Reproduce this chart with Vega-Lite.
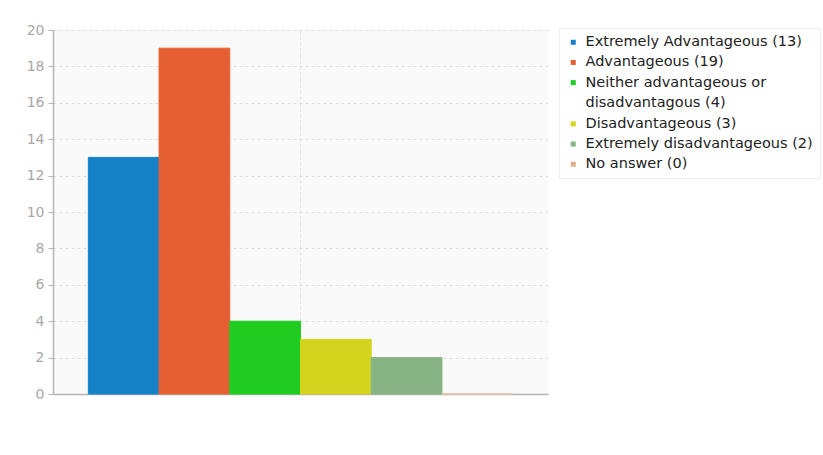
{
  "$schema": "https://vega.github.io/schema/vega-lite/v6.json",
  "width": 495,
  "height": 364,
  "autosize": {"type": "none"},
  "padding": {"left": 53, "top": 30, "right": 275, "bottom": 61},
  "background": "#ffffff",
  "config": {
    "font": "DejaVu Sans",
    "view": {"fill": "#f9f9f9", "stroke": null}
  },
  "data": {
    "values": [
      {"answer": "Extremely Advantageous", "count": 13},
      {"answer": "Advantageous", "count": 19},
      {"answer": "Neither advantageous or disadvantagous", "count": 4},
      {"answer": "Disadvantageous", "count": 3},
      {"answer": "Extremely disadvantageous", "count": 2},
      {"answer": "No answer", "count": 0}
    ]
  },
  "mark": {"type": "bar", "strokeWidth": 1},
  "encoding": {
    "x": {
      "field": "answer",
      "type": "nominal",
      "sort": null,
      "title": null,
      "scale": {"paddingInner": 0, "paddingOuter": 0.5},
      "axis": {
        "values": ["Neither advantageous or disadvantagous"],
        "bandPosition": 1,
        "labels": false,
        "ticks": false,
        "domain": true,
        "domainColor": "#b4b4b4",
        "domainWidth": 1.5,
        "grid": true,
        "gridColor": "#e2e2e2",
        "gridDash": [3, 3],
        "gridWidth": 1
      }
    },
    "y": {
      "field": "count",
      "type": "quantitative",
      "title": null,
      "scale": {"domain": [0, 20], "nice": false},
      "axis": {
        "values": [0, 2, 4, 6, 8, 10, 12, 14, 16, 18, 20],
        "labelColor": "#a8a8a8",
        "labelFontSize": 14,
        "labelPadding": 4,
        "tickColor": "#b4b4b4",
        "tickSize": 5,
        "domainColor": "#b4b4b4",
        "domainWidth": 1.5,
        "gridColor": "#dedede",
        "gridDash": [3, 3],
        "gridWidth": 1
      }
    },
    "color": {
      "field": "answer",
      "type": "nominal",
      "sort": null,
      "scale": {
        "range": ["#1582c8", "#e65f32", "#20cc20", "#d4d41f", "#88b384", "#dcb08a"]
      },
      "legend": {
        "title": null,
        "orient": "none",
        "legendX": 506,
        "legendY": -2,
        "direction": "vertical",
        "symbolType": "square",
        "symbolSize": 25,
        "symbolStrokeWidth": 0,
        "labelFontSize": 14.5,
        "labelColor": "#222222",
        "labelLimit": 400,
        "labelOffset": 5,
        "rowPadding": 5.2,
        "padding": 7,
        "fillColor": "#ffffff",
        "strokeColor": "#eeeeee",
        "labelExpr": "datum.label == 'Extremely Advantageous' ? 'Extremely Advantageous (13)' : datum.label == 'Advantageous' ? 'Advantageous (19)' : datum.label == 'Neither advantageous or disadvantagous' ? ['Neither advantageous or', 'disadvantagous (4)'] : datum.label == 'Disadvantageous' ? 'Disadvantageous (3)' : datum.label == 'Extremely disadvantageous' ? 'Extremely disadvantageous (2)' : 'No answer (0)'",
        "encode": {
          "labels": {"update": {"lineHeight": {"value": 20.3}}}
        }
      }
    },
    "stroke": {
      "field": "answer",
      "type": "nominal",
      "sort": null,
      "scale": {
        "range": ["#1582c8", "#e65f32", "#20cc20", "#d4d41f", "#88b384", "#e8c4a4"]
      },
      "legend": null
    }
  }
}
